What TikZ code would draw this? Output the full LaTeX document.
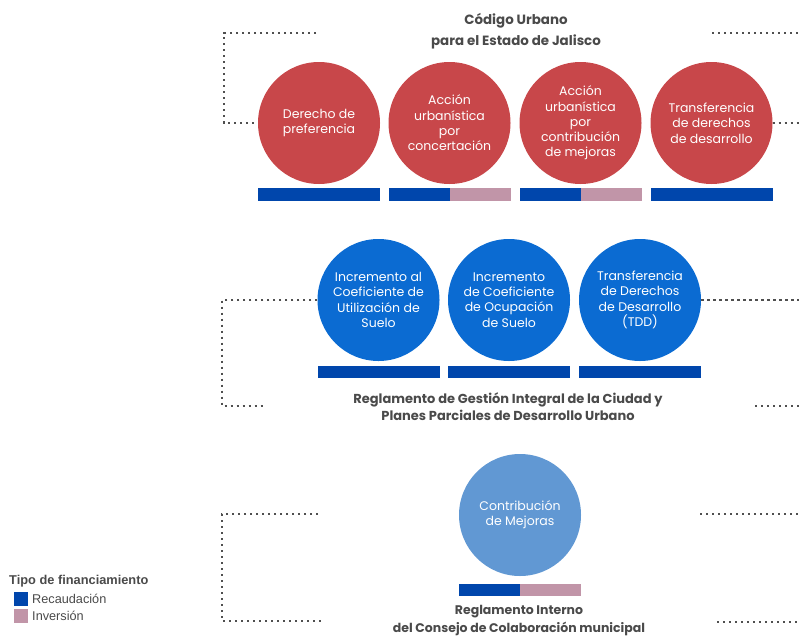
\documentclass[tikz,border=0pt]{standalone}
\usepackage{fontspec}
\setmainfont{Poppins}
\newfontfamily\legendfont{Liberation Sans}
\definecolor{rojo}{HTML}{C8474A}
\definecolor{azul}{HTML}{0B6BD2}
\definecolor{celeste}{HTML}{6198D3}
\definecolor{recaud}{HTML}{0046AC}
\definecolor{inver}{HTML}{C195A8}
\definecolor{gristxt}{HTML}{4A4A4A}
\definecolor{grispunto}{HTML}{4F4F4F}
\tikzset{
  circ/.style={circle,minimum size=122pt,inner sep=0pt,text=white,align=center,
    font=\fontsize{12.5}{15.3}\selectfont},
  titulo/.style={text=gristxt,align=center,font=\bfseries\fontsize{13}{17}\selectfont},
  puntos/.style={draw=grispunto,line width=2.4pt,dash pattern=on 2.4pt off 3.6pt},
  leyenda/.style={anchor=west,inner sep=0pt,text=gristxt,font=\legendfont\fontsize{12.7}{14}\selectfont}
}
\begin{document}
\begin{tikzpicture}[x=1pt,y=-1pt,line width=.45pt]
\useasboundingbox (0,0) rectangle (799,637);
% Codigo Urbano
\node[titulo,font=\bfseries\fontsize{13.4}{21}\selectfont] (t1) at (516,31.5) {Código Urbano\\para el Estado de Jalisco};
\foreach \i/\x/\txt in {1/319/{Derecho de\\preferencia},2/449.5/{Acción\\urbanística\\por\\concertación},
  3/580.5/{Acción\\urbanística\\por\\contribución\\de mejoras},4/711.5/{Transferencia\\de derechos\\de desarrollo}}
  \node[circ,fill=rojo] (a\i) at (\x,123) {\txt};
\foreach \x/\s in {319/1,449.5/.5,580.5/.5,711.5/1}{
  \fill[inver] (\x-61,188) rectangle (\x+61,201);
  \fill[recaud] (\x-61,188) rectangle +(122*\s,13);}
\coordinate (p1) at (316,33); \coordinate (p2) at (224,33);
\coordinate (q1) at (712,33); \coordinate (q2) at (799,33); \coordinate (q3) at (799,123);
\draw[puntos] (p1) -- (p2) |- (a1.west);
\draw[puntos] (q1) -- (q2); \draw[puntos] (a4.east) -- (q3);
% Reglamento de Gestion Integral
\foreach \i/\x/\txt in {1/378.5/{Incremento al\\Coeficiente de\\Utilización de\\Suelo},2/509/{Incremento\\de Coeficiente\\de Ocupación\\de Suelo},
  3/640/{Transferencia\\de Derechos\\de Desarrollo\\(TDD)}}{
  \node[circ,fill=azul] (b\i) at (\x,300) {\txt};
  \fill[recaud] (\x-61,366) rectangle (\x+61,378);}
\node[titulo] (t2) at (508,406.5) {Reglamento de Gestión Integral de la Ciudad y\\Planes Parciales de Desarrollo Urbano};
\coordinate (p3) at (222,406); \coordinate (p4) at (265,406);
\coordinate (q4) at (799,300); \coordinate (q5) at (755,406); \coordinate (q6) at (799,406);
\draw[puntos] (b1.west) -| (p3) -- (p4);
\draw[puntos] (b3.east) -- (q4); \draw[puntos] (q5) -- (q6);
% Reglamento Interno
\node[circ,fill=celeste] (c1) at (520,515) {Contribución\\de Mejoras};
\fill[recaud] (459,584) rectangle (520,596); \fill[inver] (520,584) rectangle (581,596);
\node[titulo,font=\bfseries\fontsize{12.5}{18}\selectfont] (t3) at (519,621) {Reglamento Interno\\del Consejo de Colaboración municipal};
\coordinate (p5) at (318,514); \coordinate (p6) at (222,514); \coordinate (p7) at (222,621); \coordinate (p8) at (322,621);
\coordinate (q7) at (700,514); \coordinate (q8) at (799,514); \coordinate (q9) at (717,622); \coordinate (q10) at (799,622);
\draw[puntos] (p5) -- (p6) -- (p7) -- (p8);
\draw[puntos] (q7) -- (q8); \draw[puntos] (q9) -- (q10);
% leyenda
\node[leyenda,font=\legendfont\bfseries\fontsize{12.8}{14}\selectfont] (l0) at (9,581) {Tipo de financiamiento};
\fill[recaud] (14,592) rectangle (28,606); \node[leyenda] (l1) at (32,599) {Recaudación};
\fill[inver] (14,609) rectangle (28,623); \node[leyenda] (l2) at (32,616) {Inversión};
\end{tikzpicture}
\end{document}
